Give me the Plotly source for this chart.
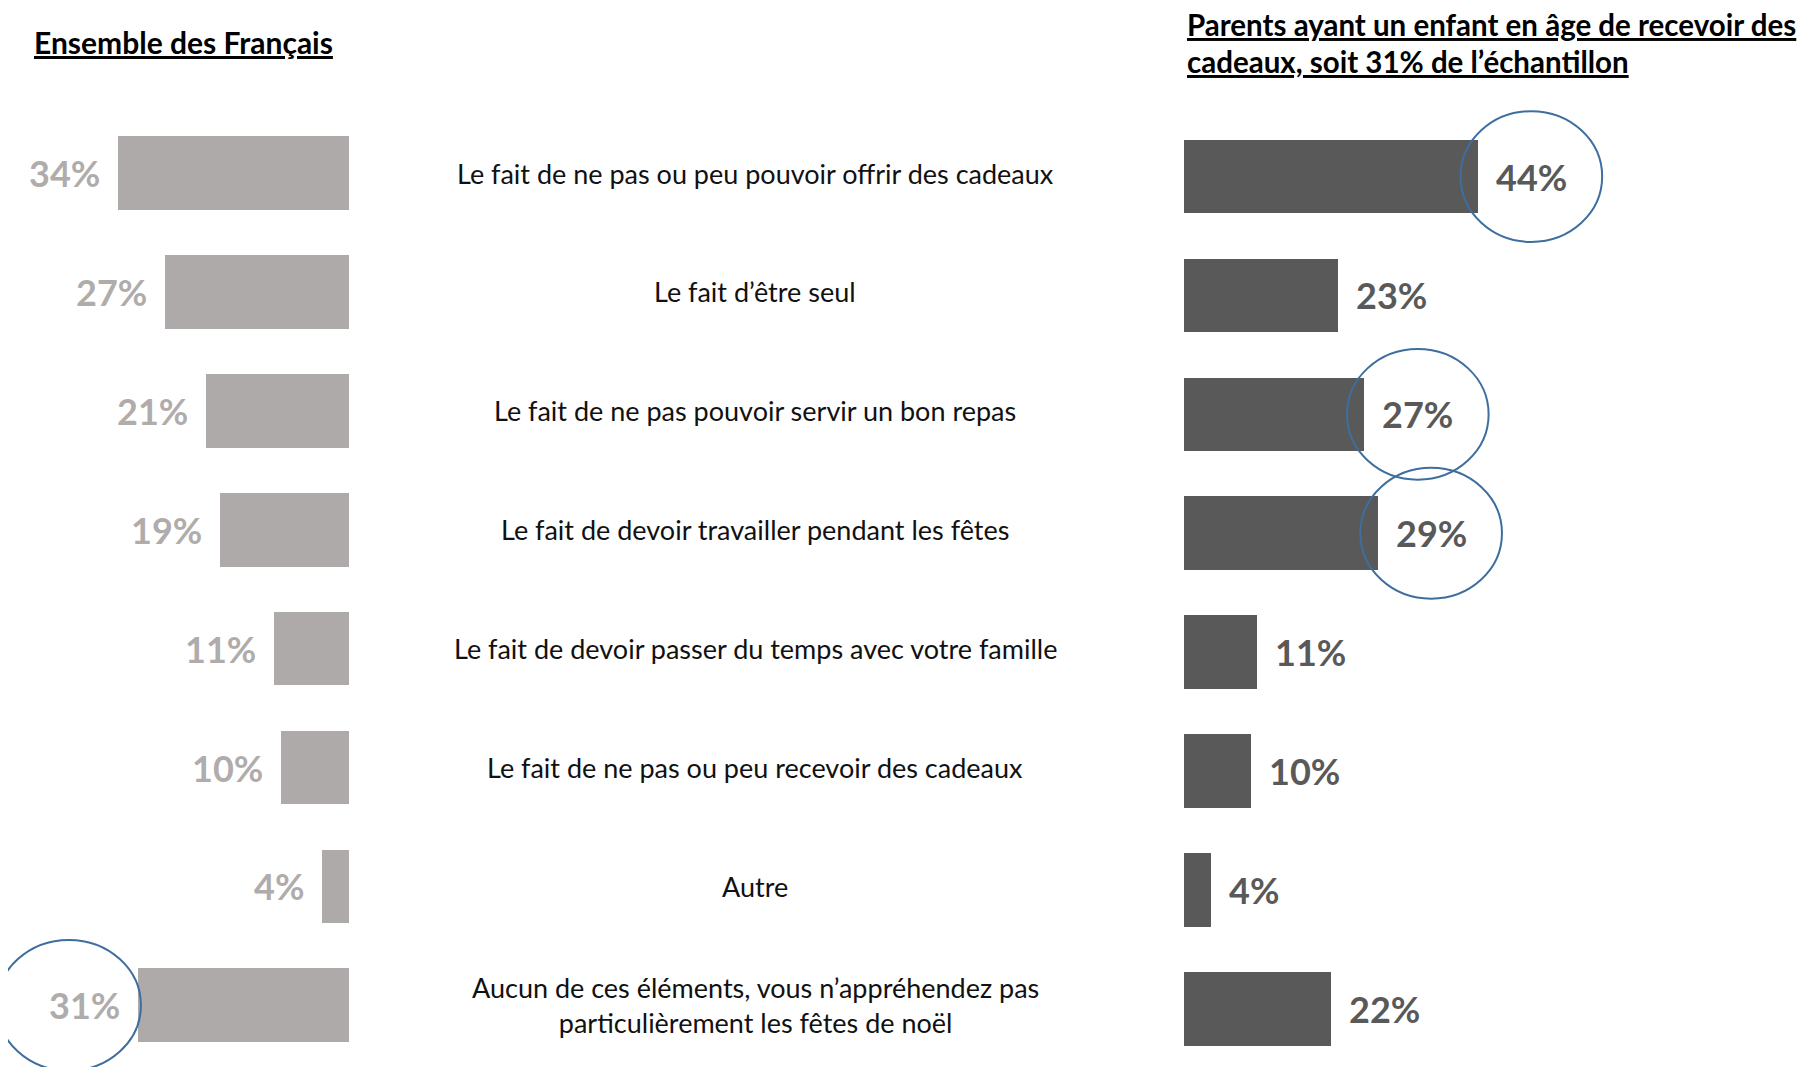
import plotly.graph_objects as go

categories = [
    "Le fait de ne pas ou peu pouvoir offrir des cadeaux",
    "Le fait d’être seul",
    "Le fait de ne pas pouvoir servir un bon repas",
    "Le fait de devoir travailler pendant les fêtes",
    "Le fait de devoir passer du temps avec votre famille",
    "Le fait de ne pas ou peu recevoir des cadeaux",
    "Autre",
    "Aucun de ces éléments, vous n’appréhendez pas<br>particulièrement les fêtes de noël",
]
ensemble = [34, 27, 21, 19, 11, 10, 4, 31]
parents = [44, 23, 27, 29, 11, 10, 4, 22]

# rows circled in the original slide
circled_ensemble = [7]
circled_parents = [0, 2, 3]

title_left = "Ensemble des Français"
title_right = ["Parents ayant un enfant en âge de recevoir des",
               "cadeaux, soit 31% de l’échantillon"]

W, H = 1819, 1067
LIGHT = "#ADAAA9"
DARK = "#595959"
BLUE = "#3E6E9E"
FONT = "Lato"

# layout in pixels
ROW0, ROW_STEP = 165, 118.9
LEFT_END, RIGHT_START = 341, 1176

rows = list(range(len(categories)))

fig = go.Figure()
fig.add_trace(go.Bar(y=rows, x=ensemble, orientation="h", width=0.62,
                     marker=dict(color=LIGHT, line=dict(width=0)),
                     xaxis="x", yaxis="y", hoverinfo="skip"))
fig.add_trace(go.Bar(y=[r + 0.03 for r in rows], x=parents, orientation="h", width=0.62,
                     marker=dict(color=DARK, line=dict(width=0)),
                     xaxis="x2", yaxis="y", hoverinfo="skip"))

annotations = []
for i, cat in enumerate(categories):
    annotations.append(dict(x=747 / W, xref="paper", y=i, yref="y", text=cat,
                            showarrow=False, xanchor="center", yanchor="middle",
                            align="center", font=dict(family=FONT, size=27, color="#111111")))
    annotations.append(dict(x=ensemble[i], xref="x", y=i, yref="y", text=f"<b>{ensemble[i]}%</b>",
                            showarrow=False, xanchor="right", yanchor="middle", xshift=-16,
                            font=dict(family=FONT, size=36, color="#AFACAB")))
    annotations.append(dict(x=parents[i], xref="x2", y=i + 0.03, yref="y", text=f"<b>{parents[i]}%</b>",
                            showarrow=False, xanchor="left", yanchor="middle", xshift=16,
                            font=dict(family=FONT, size=36, color=DARK)))

annotations.append(dict(x=24 / W, xref="paper", y=1 - 34 / H, yref="paper", text=f"<b><u>{title_left}</u></b>",
                        showarrow=False, xanchor="left", yanchor="middle",
                        font=dict(family=FONT, size=30, color="#000000")))
for k, line in enumerate(title_right):
    annotations.append(dict(x=1178 / W, xref="paper", y=1 - (17 + 37 * k) / H, yref="paper",
                            text=f"<b><u>{line}</u></b>", showarrow=False, borderpad=0,
                            xanchor="left", yanchor="middle", align="left",
                            font=dict(family=FONT, size=29.5, color="#000000")))

shapes = []
for i in circled_parents:
    cx = parents[i] + 8
    shapes.append(dict(type="circle", xref="x2", yref="y", x0=cx - 10.6, x1=cx + 10.6,
                       y0=i - 0.52, y1=i + 0.58, line=dict(color=BLUE, width=2)))
for i in circled_ensemble:
    cx = ensemble[i] + 10.2
    shapes.append(dict(type="circle", xref="x", yref="y", x0=cx - 10.6, x1=cx + 10.6,
                       y0=i - 0.55, y1=i + 0.55, line=dict(color=BLUE, width=2)))

axis_off = dict(showgrid=False, zeroline=False, showticklabels=False, showline=False, fixedrange=True)

fig.update_layout(
    width=W, height=H,
    margin=dict(l=0, r=0, t=0, b=0),
    paper_bgcolor="white", plot_bgcolor="white",
    showlegend=False, bargap=0,
    xaxis=dict(domain=[0, LEFT_END / W], range=[LEFT_END / 6.8, 0], **axis_off),
    xaxis2=dict(domain=[RIGHT_START / W, 1], range=[0, (W - RIGHT_START) / 6.68], anchor="y", **axis_off),
    yaxis=dict(range=[(H - ROW0) / ROW_STEP, -ROW0 / ROW_STEP], **axis_off),
    annotations=annotations,
    shapes=shapes,
)

fig.write_html("out.html")
